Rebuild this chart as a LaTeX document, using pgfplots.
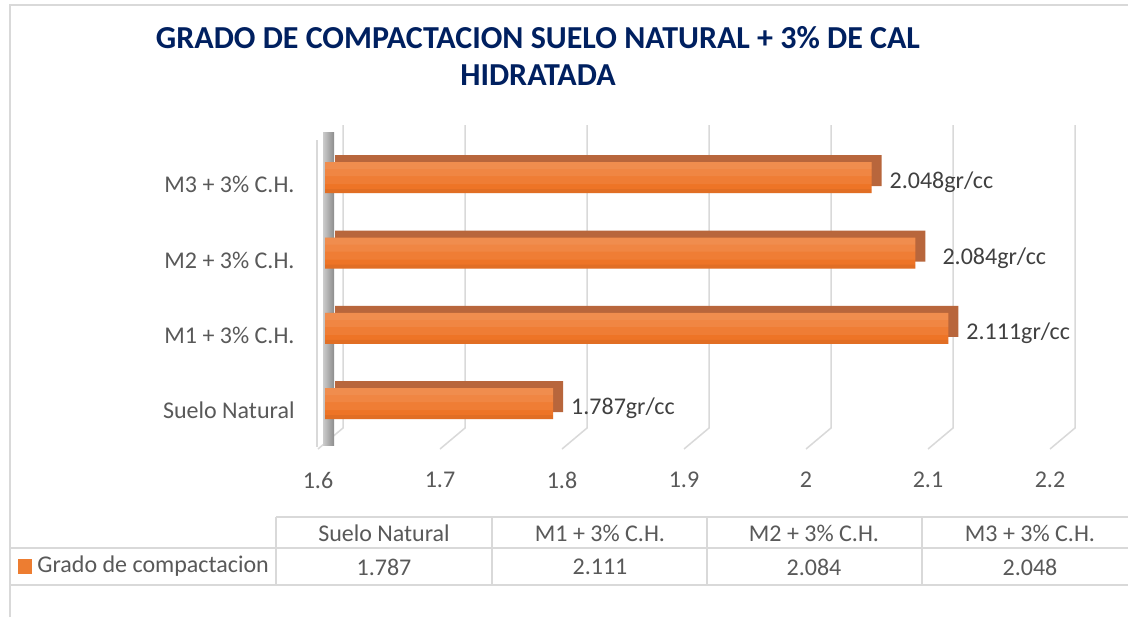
\documentclass[border=0pt]{standalone}
\usepackage{fontspec}
\setmainfont{Carlito}
\usepackage{pgfplots}
\usepackage{pgfplotstable}
\pgfplotsset{compat=1.18}
\definecolor{titleblue}{RGB}{0,32,96}
\definecolor{gridc}{RGB}{217,217,217}
\definecolor{txt}{RGB}{89,89,89}
\definecolor{lab}{RGB}{64,64,64}
\definecolor{barB}{RGB}{238,116,38}
\definecolor{barD}{RGB}{184,102,60}
\definecolor{barO}{RGB}{237,125,49}

\pgfplotstableread{
cat v
0 1.787
1 2.111
2 2.084
3 2.048
}\datatable

\begin{document}
\begin{tikzpicture}
\begin{scope}[x=0.5pt,y=-0.5pt]
\fill[white] (0,0) rectangle (1128,617);
\useasboundingbox (0,0) rectangle (1128,617);
\draw[gridc, line width=1pt] (10,617) -- (10,5) -- (1128,5);
% title
\node[anchor=base, font=\fontsize{16}{19}\selectfont\bfseries, text=titleblue, inner sep=0pt] at (538,48) {GRADO DE COMPACTACION SUELO NATURAL + 3\% DE CAL};
\node[anchor=base, font=\fontsize{16}{19}\selectfont\bfseries, text=titleblue, inner sep=0pt] at (538,85) {HIDRATADA};
% 3D grid
\foreach \v in {0,...,6} {
  \draw[gridc, line width=0.75pt] (325+\v*122+18,125) -- (325+\v*122+18,428) -- (325+\v*122-7,449);
}
% wall
\draw[gridc, line width=0.75pt] (317,140) -- (317,447);
\shade[left color=gray!40, right color=gray!90] (323,132) rectangle (334,445);
% data table
\draw[gridc, line width=1pt] (276,517) -- (1128,517);
\draw[gridc, line width=1pt] (10,548) -- (1128,548);
\draw[gridc, line width=1pt] (10,585) -- (1128,585);
\foreach \xx in {276,492,707,922} {\draw[gridc, line width=1pt] (\xx,517) -- (\xx,585);}
\begin{scope}[every node/.style={font=\fontsize{12}{14}\selectfont, text=txt}]
\node at (384,533) {Suelo Natural};
\node at (600,533) {M1 + 3\% C.H.};
\node at (814,533) {M2 + 3\% C.H.};
\node at (1030,533) {M3 + 3\% C.H.};
\node at (384,567) {1.787};
\node at (600,567) {2.111};
\node at (814,567) {2.084};
\node at (1030,567) {2.048};
\fill[barO] (18,559) rectangle (32,574);
\node[anchor=west, inner sep=0pt] at (37,566) {Grado de compactacion};
\end{scope}
\end{scope}

\begin{axis}[
  at={(162.5pt,-215pt)}, anchor=south west,
  scale only axis, width=366pt, height=152.5pt,
  xmin=0, xmax=0.6, ymin=-0.35, ymax=3.7,
  xtick={0,0.1,0.2,0.3,0.4,0.5,0.6},
  xticklabels={1.6,1.7,1.8,1.9,2,2.1,2.2},
  ytick={0,1,2,3},
  yticklabels={Suelo Natural, M1 + 3\% C.H., M2 + 3\% C.H., M3 + 3\% C.H.},
  axis line style={draw=none}, major tick length=0pt,
  ticklabel style={font=\fontsize{12}{14}\selectfont, text=txt},
  xticklabel style={anchor=center, xshift=-3.5pt, yshift=-25pt},
  yticklabel style={anchor=east, xshift=-11.7pt, yshift=-3.5pt},
  /pgf/number format/assume math mode=true,
  clip=false,
]
\addplot[xbar, bar width=15.5pt, draw=none, fill=barD, xshift=5pt, yshift=3.5pt]
  table[x expr=\thisrow{v}-1.6, y=cat] {\datatable};
\addplot[xbar, bar width=15.5pt, draw=none, fill=barB]
  table[x expr=\thisrow{v}-1.6, y=cat] {\datatable};
\addplot[xbar, bar width=11pt, bar shift=2.25pt, draw=none, fill=white, fill opacity=0.07]
  table[x expr=\thisrow{v}-1.6, y=cat] {\datatable};
\addplot[xbar, bar width=7pt, bar shift=4.25pt, draw=none, fill=white, fill opacity=0.07]
  table[x expr=\thisrow{v}-1.6, y=cat] {\datatable};
\addplot[xbar, bar width=3.5pt, bar shift=6pt, draw=none, fill=white, fill opacity=0.06]
  table[x expr=\thisrow{v}-1.6, y=cat] {\datatable};
\addplot[xbar, bar width=2pt, bar shift=-6.75pt, draw=none, fill=black, fill opacity=0.05]
  table[x expr=\thisrow{v}-1.6, y=cat] {\datatable};
\addplot[only marks, mark=none, point meta=\thisrow{v},
  skip coords between index={2}{3},
  nodes near coords={\pgfmathprintnumber[fixed,precision=3,fixed zerofill]{\pgfplotspointmeta}gr/cc},
  nodes near coords style={anchor=west, xshift=5.5pt, yshift=-2.5pt, font=\fontsize{12}{14}\selectfont, text=lab}]
  table[x expr=\thisrow{v}-1.6, y=cat] {\datatable};
\addplot[only marks, mark=none, point meta=\thisrow{v},
  restrict y to domain=1.5:2.5,
  nodes near coords={\pgfmathprintnumber[fixed,precision=3,fixed zerofill]{\pgfplotspointmeta}gr/cc},
  nodes near coords style={anchor=west, xshift=10pt, yshift=-2.5pt, font=\fontsize{12}{14}\selectfont, text=lab}]
  table[x expr=\thisrow{v}-1.6, y=cat] {\datatable};
\end{axis}
\end{tikzpicture}
\end{document}
